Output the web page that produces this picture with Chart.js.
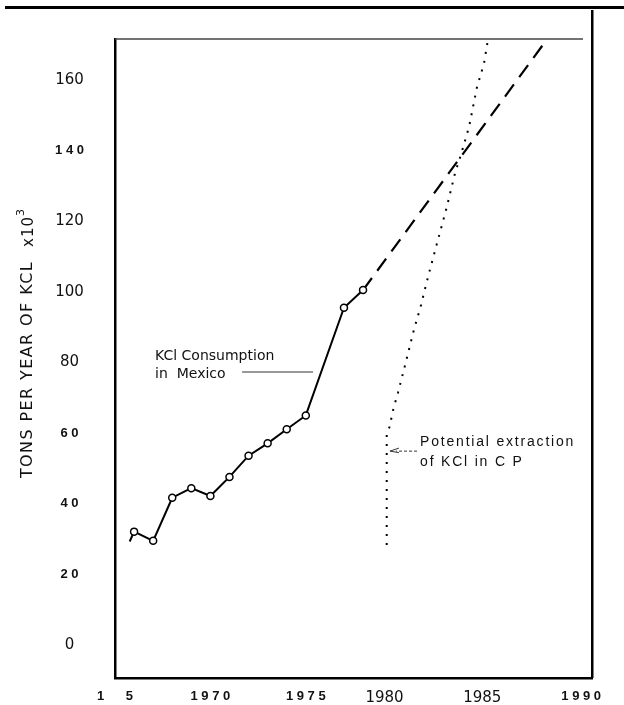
<!DOCTYPE html>
<html>
<head>
<meta charset="utf-8">
<script src="https://cdn.jsdelivr.net/npm/chart.js@4.4.1/dist/chart.umd.min.js"></script>
<style>
  html, body { margin: 0; padding: 0; background: #fff; }
  canvas { display: block; }
</style>
</head>
<body>
<canvas id="kclChart" width="624" height="705"></canvas>
<script>
// KCl consumption in Mexico (tons per year x10^3)
var consumptionYears = [1965.77, 1966, 1967, 1968, 1969, 1970, 1971, 1972, 1973, 1974, 1975, 1977, 1978]
var consumptionValues = [29.3, 32.1, 29.5, 41.7, 44.4, 42.2, 47.6, 53.6, 57.1, 61.1, 65.0, 95.5, 100.5]

// projected consumption (dashed)
var projectionYears = [1978, 1987.64]
var projectionValues = [100.5, 171.5]

// potential extraction of KCl in C P (dotted)
var extractionYears = [1979.24, 1979.24, 1979.39, 1979.6, 1979.83, 1980.22, 1980.64, 1981.04, 1981.39, 1981.88, 1982.38, 1982.83, 1983.13, 1983.56, 1983.96, 1984.34, 1984.52]
var extractionValues = [28.3, 59.5, 61.8, 67.1, 71.4, 79.6, 88.7, 96.3, 103.9, 113.8, 123.8, 133.8, 138.8, 146.8, 157.7, 164.7, 170.6]

var xTicks = [1965, 1970, 1975, 1980, 1985, 1990]
// trailing spaces nudge the typed labels left, as on the original sheet
var xTickLabels = ['1      5', '1 9 7 0', '1 9 7 5', '1980       ', '1985      ', '1 9 9 0      ']
var yTicks = [0, 20, 40, 60, 80, 100, 120, 140, 160]
var yTickLabels = ['0', '2 0', '4 0', '6 0', '80', '100', '120', '1 4 0', '160']

function toPoints(xs, ys) {
  return xs.map(function (x, i) {
    return { x: x, y: ys[i] }
  })
}

// plain fonts for round labels, bold for the spaced typewriter ones
function tickFont(label, big) {
  if (label.trim().indexOf(' ') === -1) {
    return { family: 'DejaVu Sans', size: big, weight: 'normal' }
  }
  return { family: 'Liberation Sans', size: 13, weight: 'bold' }
}

// keep the plot box where it is, ignore label overhang padding
function noPadding(scale) {
  scale.paddingTop = 0
  scale.paddingBottom = 0
  scale.paddingLeft = 0
  scale.paddingRight = 0
}

var extras = {
  id: 'extras',
  afterDraw: function (chart) {
    var ctx = chart.ctx
    var area = chart.chartArea
    var xs = chart.scales.x
    var ys = chart.scales.y
    ctx.save()

    // top rule and right frame
    ctx.fillStyle = '#000'
    ctx.fillRect(5, 6, 619, 3)
    ctx.fillRect(area.right - 1, 10, 2.5, area.bottom - 10)
    ctx.strokeStyle = '#444'
    ctx.lineWidth = 1.5
    ctx.beginPath()
    ctx.moveTo(area.left, area.top)
    ctx.lineTo(area.right - 9, area.top)
    ctx.stroke()

    // y axis title
    ctx.save()
    ctx.translate(28, 343)
    ctx.rotate(-Math.PI / 2)
    ctx.fillStyle = '#111'
    ctx.textBaseline = 'middle'
    ctx.textAlign = 'left'
    ctx.font = '16px "DejaVu Sans"'
    ctx.letterSpacing = '1.4px'
    var main = 'TONS PER YEAR OF KCL'
    var wMain = ctx.measureText(main).width
    ctx.font = '15px "DejaVu Sans"'
    ctx.letterSpacing = '1px'
    var wX = ctx.measureText('x10').width
    ctx.font = '11px "DejaVu Sans"'
    var wSup = ctx.measureText('3').width
    var total = wMain + 14 + wX + wSup
    var sx = -total / 2
    ctx.font = '16px "DejaVu Sans"'
    ctx.letterSpacing = '1.4px'
    ctx.fillText(main, sx, 0)
    ctx.font = '15px "DejaVu Sans"'
    ctx.letterSpacing = '1px'
    ctx.fillText('x10', sx + wMain + 14, 1)
    ctx.font = '11px "DejaVu Sans"'
    ctx.fillText('3', sx + wMain + 14 + wX, -7)
    ctx.restore()

    // annotations
    ctx.fillStyle = '#111'
    ctx.textBaseline = 'middle'
    ctx.textAlign = 'left'
    ctx.font = '14px "DejaVu Sans"'
    ctx.letterSpacing = '0px'
    ctx.fillText('KCl Consumption', xs.getPixelForValue(1967.1), ys.getPixelForValue(81.6))
    ctx.fillText('in  Mexico', xs.getPixelForValue(1967.1), ys.getPixelForValue(76.5))

    ctx.strokeStyle = '#333'
    ctx.lineWidth = 1
    ctx.beginPath()
    ctx.moveTo(xs.getPixelForValue(1971.66), ys.getPixelForValue(77.3))
    ctx.lineTo(xs.getPixelForValue(1975.38), ys.getPixelForValue(77.3))
    ctx.stroke()

    ctx.font = '14px "Liberation Sans"'
    ctx.letterSpacing = '1.8px'
    ctx.fillText('Potential extraction', xs.getPixelForValue(1980.99), ys.getPixelForValue(57.5))
    ctx.fillText('of KCl in C P', xs.getPixelForValue(1980.99), ys.getPixelForValue(51.8))

    var ax0 = xs.getPixelForValue(1980.83)
    var ax1 = xs.getPixelForValue(1979.41)
    var ay = ys.getPixelForValue(54.9)
    ctx.setLineDash([3, 2])
    ctx.beginPath()
    ctx.moveTo(ax0, ay)
    ctx.lineTo(ax1 + 6, ay)
    ctx.stroke()
    ctx.setLineDash([])
    ctx.beginPath()
    ctx.moveTo(ax1 + 9, ay - 3)
    ctx.lineTo(ax1, ay)
    ctx.lineTo(ax1 + 9, ay + 1.5)
    ctx.stroke()

    ctx.restore()
  },
}

var chartData = {
  datasets: [
    {
      data: toPoints(consumptionYears, consumptionValues),
      borderColor: '#000',
      borderWidth: 2,
      pointRadius: consumptionYears.map(function (y, i) { return i === 0 ? 0 : 3.5 }),
      pointBackgroundColor: '#fff',
      pointBorderColor: '#000',
      pointBorderWidth: 1.5,
      tension: 0,
    },
    {
      data: toPoints(projectionYears, projectionValues),
      borderColor: '#000',
      borderWidth: 2.2,
      borderDash: [15, 9],
      pointRadius: 0,
    },
    {
      data: toPoints(extractionYears, extractionValues),
      borderColor: '#000',
      borderWidth: 2,
      borderDash: [2, 7],
      pointRadius: 0,
      tension: 0,
    },
  ],
}

var chartOptions = {
  responsive: false,
  animation: false,
  devicePixelRatio: 1,
  layout: { padding: { left: 0, top: 39, right: 32, bottom: 0 } },
  plugins: { legend: { display: false }, tooltip: { enabled: false } },
  scales: {
    x: {
      type: 'linear',
      min: 1965,
      max: 1990,
      afterBuildTicks: function (scale) {
        scale.ticks = xTicks.map(function (v) { return { value: v } })
      },
      afterFit: function (scale) {
        scale.height = 27
        noPadding(scale)
      },
      grid: { display: false, drawTicks: false },
      border: { display: true, color: '#000', width: 2.5 },
      ticks: {
        padding: 11,
        color: '#111',
        maxRotation: 0,
        autoSkip: false,
        font: function (c) {
          return tickFont(xTickLabels[c.index] || '', 15)
        },
        callback: function (value) {
          return xTickLabels[xTicks.indexOf(value)]
        },
      },
    },
    y: {
      type: 'linear',
      min: -9.35,
      max: 171.6,
      afterBuildTicks: function (scale) {
        scale.ticks = yTicks.map(function (v) { return { value: v } })
      },
      afterFit: function (scale) {
        scale.width = 115
        noPadding(scale)
      },
      grid: { display: false, drawTicks: false },
      border: { display: true, color: '#000', width: 2.5 },
      ticks: {
        padding: 31,
        crossAlign: 'center',
        color: '#111',
        autoSkip: false,
        font: function (c) {
          return tickFont(yTickLabels[c.index] || '', 15)
        },
        callback: function (value) {
          return yTickLabels[yTicks.indexOf(value)]
        },
      },
    },
  },
}

new Chart(document.getElementById('kclChart').getContext('2d'), {
  type: 'line',
  data: chartData,
  options: chartOptions,
  plugins: [extras],
})
</script>
</body>
</html>
